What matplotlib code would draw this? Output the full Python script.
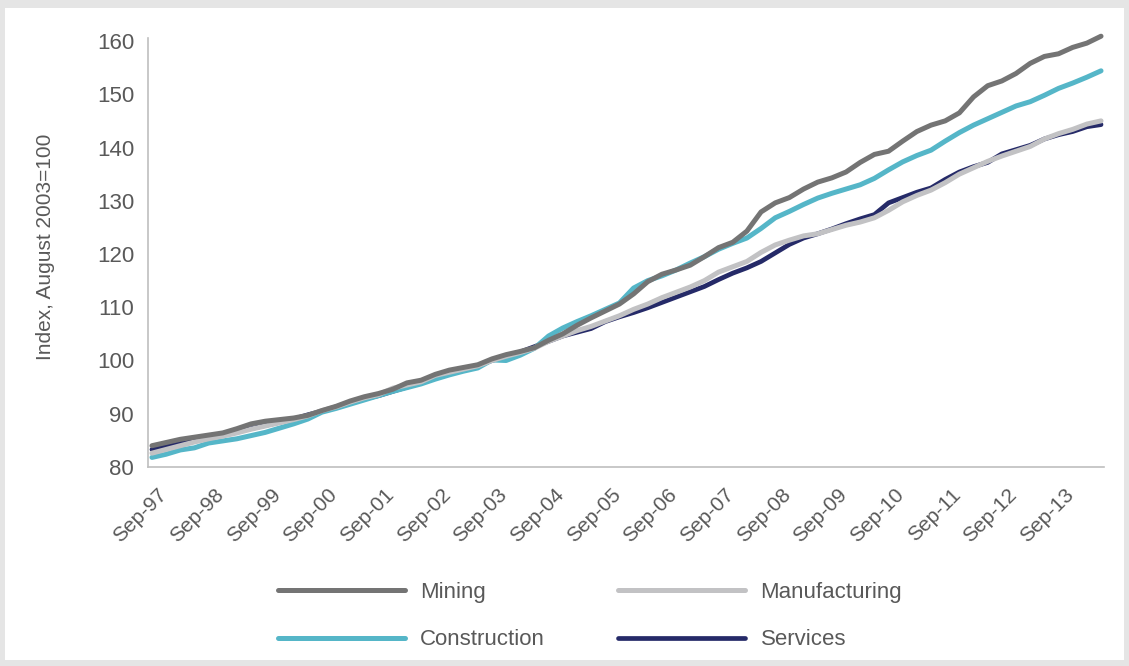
import numpy as np
import matplotlib
matplotlib.use("Agg")
import matplotlib.pyplot as plt
import matplotlib.patches as patches
import matplotlib.transforms as mtransforms

plt.rcParams['font.family'] = ['Liberation Sans', 'DejaVu Sans']

# quarterly, Sep-97 .. Jun-14 (index, August 2003 = 100)
tick_labels = ["Sep-97", "Sep-98", "Sep-99", "Sep-00", "Sep-01", "Sep-02", "Sep-03",
               "Sep-04", "Sep-05", "Sep-06", "Sep-07", "Sep-08", "Sep-09", "Sep-10",
               "Sep-11", "Sep-12", "Sep-13"]

mining = [84.0, 84.6, 85.2, 85.6, 86.0, 86.4, 87.2, 88.1, 88.6, 88.9,
          89.2, 89.7, 90.6, 91.4, 92.4, 93.2, 93.8, 94.6, 95.8, 96.3,
          97.4, 98.2, 98.7, 99.2, 100.3, 101.1, 101.7, 102.4, 103.8, 105.0,
          106.6, 108.0, 109.3, 110.6, 112.5, 114.8, 116.2, 117.0, 117.9, 119.5,
          121.2, 122.2, 124.3, 127.9, 129.6, 130.6, 132.2, 133.5, 134.3, 135.4,
          137.2, 138.7, 139.3, 141.2, 143.0, 144.2, 145.0, 146.5, 149.5, 151.6,
          152.5, 153.9, 155.8, 157.1, 157.6, 158.8, 159.6, 160.9]

construction = [81.8, 82.4, 83.2, 83.6, 84.5, 84.9, 85.3, 85.9, 86.5, 87.3,
                88.1, 89.0, 90.3, 91.0, 91.8, 92.6, 93.4, 94.2, 94.9, 95.6,
                96.5, 97.3, 98.0, 98.6, 100.1, 100.0, 101.0, 102.3, 104.6, 106.1,
                107.3, 108.4, 109.6, 110.8, 113.6, 115.0, 115.9, 117.0, 118.3, 119.5,
                120.9, 122.0, 123.0, 124.8, 126.8, 128.0, 129.3, 130.5, 131.4, 132.2,
                133.0, 134.2, 135.8, 137.3, 138.5, 139.5, 141.2, 142.8, 144.2, 145.4,
                146.6, 147.8, 148.6, 149.8, 151.1, 152.1, 153.2, 154.4]

manufacturing = [82.6, 83.3, 84.0, 84.7, 85.3, 85.8, 86.4, 87.1, 87.7, 88.3,
                 88.9, 89.6, 90.6, 91.3, 92.2, 93.0, 93.6, 94.8, 95.4, 96.0,
                 97.2, 97.8, 98.4, 99.0, 100.0, 100.8, 101.5, 102.3, 103.6, 104.6,
                 105.6, 106.4, 107.4, 108.4, 109.6, 110.6, 111.8, 112.8, 113.8, 115.0,
                 116.6, 117.6, 118.6, 120.3, 121.7, 122.6, 123.4, 123.8, 124.6, 125.4,
                 126.0, 126.8, 128.2, 129.8, 131.0, 132.0, 133.4, 135.0, 136.2, 137.4,
                 138.4, 139.3, 140.2, 141.6, 142.6, 143.4, 144.4, 145.0]

services = [83.3, 84.0, 84.5, 85.0, 85.5, 86.0, 86.6, 87.2, 87.8, 88.4,
            89.0, 89.8, 90.5, 91.3, 92.0, 92.8, 93.4, 94.2, 95.0, 95.8,
            96.8, 97.6, 98.2, 99.0, 100.0, 100.8, 101.6, 102.6, 103.6, 104.6,
            105.3, 106.0, 107.3, 108.2, 109.0, 109.9, 110.9, 111.9, 112.9, 113.9,
            115.2, 116.4, 117.4, 118.6, 120.2, 121.8, 123.0, 123.8, 124.7, 125.7,
            126.6, 127.4, 129.6, 130.6, 131.6, 132.4, 134.0, 135.4, 136.4, 137.2,
            138.8, 139.6, 140.4, 141.6, 142.4, 143.0, 143.9, 144.3]

x = np.arange(len(mining))
text_col = "#595959"

fig = plt.figure(figsize=(11.29, 6.66), dpi=100)
fig.set_facecolor("#e5e5e5")
fig.patches.append(patches.Rectangle((5 / 1129, 1 - 660 / 666), 1119 / 1129, 652 / 666,
                                     transform=fig.transFigure, facecolor="white",
                                     edgecolor="none", zorder=-5))

ax = fig.add_axes([148 / 1129, 1 - 467 / 666, 956 / 1129, 426 / 666])
ax.set_zorder(2)
ax.set_facecolor("white")

ax.plot(x, services, color="#252a68", lw=3.4, label="Services", zorder=2,
        solid_capstyle="round", clip_on=False)
ax.plot(x, construction, color="#55b6c8", lw=3.6, label="Construction", zorder=3,
        solid_capstyle="round", clip_on=False)
ax.plot(x, manufacturing, color="#c2c2c4", lw=3.6, label="Manufacturing", zorder=4,
        solid_capstyle="round", clip_on=False)
ax.plot(x, mining, color="#747474", lw=3.6, label="Mining", zorder=5,
        solid_capstyle="round", clip_on=False)

ax.set_xlim(-0.28, 67.21)
ax.set_ylim(80, 160)
ax.set_yticks(np.arange(80, 161, 10))
ax.tick_params(axis="y", length=0, pad=10, labelsize=16, labelcolor=text_col)

ax.set_xticks(x[::4])
ax.set_xticklabels(tick_labels, rotation=45, ha="right", fontsize=15, color=text_col)
ax.tick_params(axis="x", length=0, pad=13)
offset = mtransforms.ScaledTranslation(19 / 100, 0, fig.dpi_scale_trans)
for lab in ax.get_xticklabels():
    lab.set_transform(lab.get_transform() + offset)

for s in ["top", "right"]:
    ax.spines[s].set_visible(False)
for s in ["left", "bottom"]:
    ax.spines[s].set_color("#bfbfbf")
    ax.spines[s].set_linewidth(1.2)
ax.spines["left"].set_bounds(80, 160.6)

fig.text(46 / 1129, 1 - 247 / 666, "Index, August 2003=100", rotation=90,
         ha="center", va="center", fontsize=15, color=text_col)

handles, labels = ax.get_legend_handles_labels()
order = ["Mining", "Construction", "Manufacturing", "Services"]
h = [handles[labels.index(n)] for n in order]
leg = fig.legend(h, order, loc="center", bbox_to_anchor=(590 / 1129, 1 - 616 / 666),
                 ncol=2, frameon=False, fontsize=16, handlelength=5.7,
                 handletextpad=0.7, columnspacing=3.3, labelspacing=1.2)
for t in leg.get_texts():
    t.set_color(text_col)

fig.savefig("out.png", dpi=100, facecolor=fig.get_facecolor())
